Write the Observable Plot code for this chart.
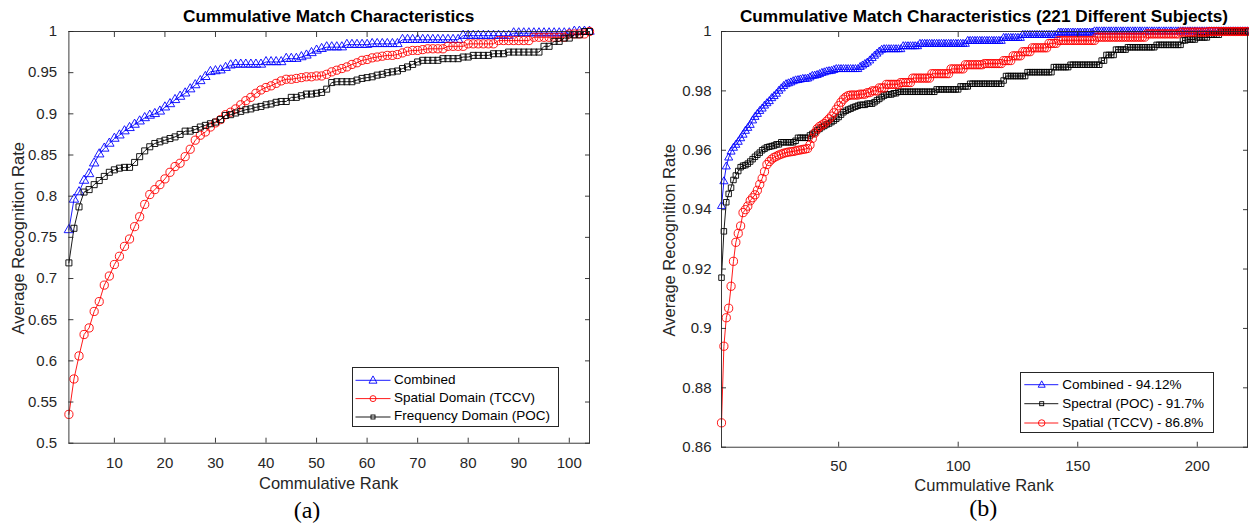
<!DOCTYPE html>
<html><head><meta charset="utf-8">
<script src="https://cdn.jsdelivr.net/npm/d3@7"></script>
<script src="https://cdn.jsdelivr.net/npm/@observablehq/plot@0.6"></script>
<style>
html,body{margin:0;padding:0;background:#fff;}
#root{position:relative;width:1249px;height:525px;overflow:hidden;font-family:"Liberation Sans",Arial,Helvetica,sans-serif;color:#262626;}
.abs{position:absolute;white-space:nowrap;}
.lg{position:absolute;box-sizing:border-box;border:1px solid #262626;background:#fff;}
</style></head><body><div id="root"></div>
<script>
// ---------------- DATA ----------------
// Panel (a): ranks 1..104
const titleA = "Cummulative Match Characteristics";
const xLabelA = "Commulative Rank";
const yLabel = "Average Recognition Rate";
const xTicksA = [10,20,30,40,50,60,70,80,90,100];
const yTicksA = [0.5,0.55,0.6,0.65,0.7,0.75,0.8,0.85,0.9,0.95,1];
const legendA = ["Combined","Spatial Domain (TCCV)","Frequency Domain (POC)"];

const combinedA = [
0.759,0.796,0.805,0.819,0.827,0.840,0.851,0.858,0.864,0.870,
0.874,0.879,0.883,0.887,0.891,0.895,0.898,0.900,0.903,0.908,
0.912,0.917,0.921,0.925,0.930,0.935,0.940,0.945,0.951,0.952,
0.953,0.956,0.959,0.960,0.960,0.960,0.960,0.960,0.960,0.963,
0.963,0.963,0.963,0.967,0.967,0.967,0.969,0.971,0.974,0.977,
0.979,0.981,0.981,0.981,0.981,0.984,0.984,0.984,0.984,0.984,
0.985,0.985,0.985,0.985,0.985,0.985,0.990,0.990,0.990,0.990,
0.990,0.990,0.990,0.990,0.990,0.990,0.990,0.990,0.995,0.995,
0.995,0.995,0.995,0.995,0.995,0.995,0.995,0.995,0.998,0.998,
0.998,0.998,0.998,0.998,0.998,0.998,0.998,0.998,0.998,0.998,
1,1,1,1];
const spatialA = [
0.535,0.578,0.606,0.632,0.640,0.660,0.672,0.692,0.703,0.717,
0.727,0.739,0.748,0.763,0.775,0.790,0.802,0.808,0.814,0.821,
0.829,0.836,0.840,0.848,0.857,0.868,0.874,0.878,0.884,0.889,
0.893,0.899,0.902,0.906,0.911,0.916,0.920,0.925,0.929,0.932,
0.934,0.937,0.940,0.942,0.942,0.943,0.944,0.945,0.945,0.946,
0.946,0.948,0.951,0.953,0.955,0.957,0.960,0.962,0.965,0.966,
0.968,0.969,0.970,0.971,0.971,0.972,0.974,0.976,0.977,0.977,
0.978,0.979,0.979,0.979,0.979,0.982,0.982,0.982,0.982,0.985,
0.985,0.985,0.985,0.985,0.985,0.989,0.989,0.989,0.989,0.989,
0.989,0.989,0.993,0.993,0.993,0.993,0.993,0.993,0.993,0.997,
0.997,0.997,0.997,1];
const frequencyA = [
0.719,0.761,0.787,0.805,0.808,0.814,0.819,0.824,0.829,0.832,
0.834,0.835,0.835,0.841,0.848,0.855,0.860,0.864,0.866,0.868,
0.870,0.872,0.875,0.879,0.879,0.881,0.884,0.886,0.888,0.890,
0.893,0.898,0.899,0.901,0.903,0.905,0.906,0.908,0.909,0.911,
0.912,0.914,0.915,0.915,0.920,0.920,0.922,0.924,0.924,0.925,
0.926,0.930,0.938,0.939,0.939,0.939,0.939,0.941,0.943,0.944,
0.945,0.947,0.948,0.950,0.951,0.952,0.955,0.957,0.960,0.963,
0.965,0.965,0.965,0.965,0.967,0.967,0.967,0.967,0.969,0.969,
0.971,0.971,0.971,0.971,0.973,0.973,0.973,0.975,0.975,0.975,
0.975,0.975,0.975,0.975,0.982,0.982,0.988,0.988,0.992,0.992,
0.996,0.996,1,1];

// Panel (b): ranks 1..221
const titleB = "Cummulative Match Characteristics (221 Different Subjects)";
const xLabelB = "Cummulative Rank";
const xTicksB = [50,100,150,200];
const yTicksB = [0.86,0.88,0.9,0.92,0.94,0.96,0.98,1];
const legendB = ["Combined - 94.12%","Spectral (POC) - 91.7%","Spatial (TCCV) - 86.8%"];

const combinedB = [
0.9412,0.9495,0.9545,0.9575,0.9595,0.9608,0.9618,0.9628,0.9640,0.9652,
0.9665,0.9675,0.9685,0.9700,0.9712,0.9722,0.9732,0.9740,0.9750,0.9758,
0.9765,0.9775,0.9782,0.9790,0.9800,0.9808,0.9816,0.9822,0.9825,0.9828,
0.9832,0.9835,0.9836,0.9838,0.9840,0.9840,0.9841,0.9845,0.9850,0.9851,
0.9853,0.9856,0.9860,0.9862,0.9865,0.9866,0.9867,0.9870,0.9873,0.9873,
0.9873,0.9873,0.9873,0.9873,0.9873,0.9873,0.9873,0.9873,0.9880,0.9885,
0.9890,0.9895,0.9902,0.9910,0.9918,0.9925,0.9932,0.9938,0.9940,0.9940,
0.9940,0.9940,0.9940,0.9940,0.9940,0.9940,0.9950,0.9950,0.9950,0.9950,
0.9950,0.9950,0.9950,0.9958,0.9958,0.9958,0.9958,0.9958,0.9958,0.9958,
0.9958,0.9958,0.9958,0.9958,0.9958,0.9958,0.9958,0.9958,0.9958,0.9958,
0.9958,0.9958,0.9958,0.9968,0.9968,0.9968,0.9968,0.9968,0.9968,0.9968,
0.9968,0.9968,0.9968,0.9968,0.9968,0.9968,0.9968,0.9968,0.9978,0.9978,
0.9978,0.9978,0.9978,0.9978,0.9978,0.9978,0.9988,0.9988,0.9988,0.9988,
0.9988,0.9988,0.9988,0.9988,0.9988,0.9988,0.9988,0.9988,0.9988,0.9988,
0.9988,0.9996,0.9996,0.9996,0.9996,0.9996,0.9996,0.9996,0.9996,0.9996,
0.9996,0.9996,0.9996,0.9996,0.9996,0.9996,1,1,1,1,
1,1,1,1,1,1,1,1,1,1,
1,1,1,1,1,1,1,1,1,1,
1,1,1,1,1,1,1,1,1,1,
1,1,1,1,1,1,1,1,1,1,
1,1,1,1,1,1,1,1,1,1,
1,1,1,1,1,1,1,1,1,1,
1];
const spectralB = [
0.9171,0.9327,0.9425,0.9453,0.9474,0.9500,0.9515,0.9530,0.9543,0.9548,
0.9550,0.9555,0.9562,0.9570,0.9578,0.9585,0.9592,0.9600,0.9605,0.9610,
0.9612,0.9614,0.9616,0.9620,0.9620,0.9627,0.9627,0.9627,0.9627,0.9627,
0.9627,0.9632,0.9642,0.9642,0.9642,0.9642,0.9642,0.9650,0.9655,0.9660,
0.9667,0.9672,0.9678,0.9682,0.9687,0.9690,0.9695,0.9700,0.9706,0.9712,
0.9720,0.9728,0.9733,0.9737,0.9740,0.9744,0.9747,0.9750,0.9753,0.9753,
0.9753,0.9757,0.9757,0.9757,0.9762,0.9768,0.9773,0.9779,0.9784,0.9788,
0.9788,0.9788,0.9792,0.9792,0.9797,0.9797,0.9797,0.9797,0.9797,0.9797,
0.9797,0.9797,0.9797,0.9797,0.9797,0.9797,0.9797,0.9797,0.9797,0.9797,
0.9805,0.9805,0.9805,0.9805,0.9805,0.9805,0.9805,0.9805,0.9805,0.9805,
0.9815,0.9815,0.9815,0.9815,0.9824,0.9824,0.9824,0.9824,0.9824,0.9824,
0.9824,0.9824,0.9824,0.9824,0.9824,0.9824,0.9824,0.9824,0.9835,0.9850,
0.9850,0.9850,0.9850,0.9850,0.9850,0.9850,0.9850,0.9850,0.9863,0.9863,
0.9863,0.9863,0.9863,0.9863,0.9863,0.9863,0.9863,0.9863,0.9863,0.9880,
0.9880,0.9880,0.9880,0.9880,0.9880,0.9880,0.9888,0.9888,0.9888,0.9888,
0.9888,0.9888,0.9888,0.9888,0.9888,0.9888,0.9888,0.9888,0.9888,0.9902,
0.9902,0.9921,0.9921,0.9921,0.9921,0.9939,0.9939,0.9939,0.9939,0.9939,
0.9947,0.9947,0.9947,0.9947,0.9947,0.9947,0.9947,0.9947,0.9947,0.9947,
0.9947,0.9947,0.9955,0.9955,0.9955,0.9955,0.9955,0.9955,0.9955,0.9955,
0.9955,0.9955,0.9955,0.9970,0.9970,0.9973,0.9973,0.9973,0.9973,0.9980,
0.9980,0.9980,0.9980,0.9980,0.9989,0.9989,0.9989,0.9989,0.9989,1,
1,1,1,1,1,1,1,1,1,1,
1];
const spatialB = [
0.8682,0.8940,0.9036,0.9068,0.9142,0.9226,0.9290,0.9320,0.9345,0.9390,
0.9400,0.9412,0.9430,0.9440,0.9450,0.9465,0.9485,0.9505,0.9528,0.9552,
0.9562,0.9570,0.9576,0.9580,0.9584,0.9587,0.9590,0.9592,0.9594,0.9595,
0.9596,0.9598,0.9600,0.9601,0.9603,0.9604,0.9606,0.9618,0.9640,0.9658,
0.9672,0.9680,0.9685,0.9690,0.9698,0.9706,0.9715,0.9726,0.9738,0.9750,
0.9762,0.9772,0.9779,0.9784,0.9786,0.9786,0.9786,0.9786,0.9789,0.9789,
0.9789,0.9794,0.9794,0.9800,0.9800,0.9800,0.9810,0.9810,0.9810,0.9822,
0.9822,0.9822,0.9822,0.9822,0.9822,0.9828,0.9828,0.9828,0.9828,0.9828,
0.9843,0.9843,0.9843,0.9843,0.9843,0.9843,0.9843,0.9843,0.9858,0.9858,
0.9858,0.9858,0.9858,0.9858,0.9858,0.9858,0.9874,0.9874,0.9874,0.9874,
0.9874,0.9874,0.9888,0.9888,0.9888,0.9888,0.9888,0.9888,0.9888,0.9888,
0.9892,0.9892,0.9892,0.9892,0.9892,0.9892,0.9892,0.9892,0.9902,0.9902,
0.9902,0.9902,0.9918,0.9918,0.9918,0.9918,0.9932,0.9932,0.9932,0.9932,
0.9945,0.9945,0.9945,0.9945,0.9945,0.9945,0.9945,0.9960,0.9960,0.9960,
0.9960,0.9970,0.9970,0.9970,0.9970,0.9970,0.9970,0.9970,0.9970,0.9970,
0.9970,0.9970,0.9970,0.9970,0.9970,0.9970,0.9970,0.9981,0.9981,0.9981,
0.9981,0.9981,0.9981,0.9981,0.9981,0.9981,0.9981,0.9981,0.9981,0.9981,
0.9981,0.9981,0.9981,0.9981,0.9981,0.9981,0.9981,0.9981,0.9992,0.9992,
0.9992,0.9992,0.9992,0.9992,0.9992,0.9992,0.9992,0.9992,0.9992,0.9992,
0.9992,0.9992,0.9998,0.9998,0.9998,0.9998,0.9998,0.9998,0.9998,0.9998,
0.9998,0.9998,0.9998,0.9998,1,1,1,1,1,1,
1,1,1,1,1,1,1,1,1,1,
1];

// ---------------- DRAW ----------------
const root = document.getElementById("root");
const AX = "#262626";
const toRows = (vals) => vals.map((v, i) => ({rank: i + 1, v}));

function seriesMarks(vals, color, symbol, r) {
  const rows = toRows(vals);
  return [
    Plot.line(rows, {x: "rank", y: "v", stroke: color, strokeWidth: 0.9}),
    Plot.dot(rows, {x: "rank", y: "v", symbol, r, stroke: color, fill: "none", strokeWidth: 0.9})
  ];
}

function panel(cfg) {
  const fmt = d => String(d);
  const chart = Plot.plot({
    width: cfg.width, height: cfg.height,
    marginLeft: cfg.mL, marginRight: cfg.mR, marginTop: cfg.mT, marginBottom: cfg.mB,
    style: {fontFamily: '"Liberation Sans", Arial, sans-serif', fontSize: "15px", color: AX, background: "transparent", overflow: "visible"},
    x: {domain: cfg.xDomain},
    y: {domain: cfg.yDomain},
    marks: [
      ...cfg.series.flatMap(s => seriesMarks(s.vals, s.color, s.symbol, s.r)),
      Plot.frame({stroke: AX, strokeWidth: 0.9}),
      Plot.axisX(cfg.xTicks, {anchor: "bottom", tickSize: 0, tickPadding: cfg.xPad, tickFormat: fmt, label: null, fontSize: 15, fill: AX}),
      Plot.axisY(cfg.yTicks, {anchor: "left", tickSize: 0, tickPadding: cfg.yPad, tickFormat: fmt, label: null, fontSize: 15, fill: AX}),
      Plot.axisX(cfg.xTicks, {anchor: "bottom", tickSize: -5, fill: "none", stroke: AX, strokeWidth: 0.9}),
      Plot.axisX(cfg.xTicks, {anchor: "top", tickSize: -5, fill: "none", stroke: AX, strokeWidth: 0.9}),
      Plot.axisY(cfg.yTicks, {anchor: "left", tickSize: -5, fill: "none", stroke: AX, strokeWidth: 0.9}),
      Plot.axisY(cfg.yTicks, {anchor: "right", tickSize: -5, fill: "none", stroke: AX, strokeWidth: 0.9})
    ]
  });
  const wrap = document.createElement("div");
  wrap.style.cssText = `position:absolute;left:${cfg.left}px;top:0px;`;
  wrap.appendChild(chart);
  root.appendChild(wrap);
}

function text(str, {cx, baseline, size, weight = "normal", serif = false, color = AX, w = 800}) {
  const d = document.createElement("div");
  d.className = "abs";
  d.textContent = str;
  const asc = serif ? 0.8375 : 0.8465;
  d.style.cssText += `left:${cx - w / 2}px;width:${w}px;text-align:center;top:${baseline - asc * size}px;font-size:${size}px;line-height:${size}px;font-weight:${weight};color:${color};` + (serif ? 'font-family:"Liberation Serif","Times New Roman",serif;' : "");
  root.appendChild(d);
}

function vtext(str, {cx, cy, size}) {
  const d = document.createElement("div");
  d.className = "abs";
  d.textContent = str;
  d.style.cssText += `left:${cx - 200}px;width:400px;text-align:center;top:${cy - size / 2}px;height:${size}px;font-size:${size}px;line-height:${size}px;transform:rotate(-90deg);transform-origin:50% 50%;`;
  root.appendChild(d);
}

function symbolSvg(symbol, color, cx, cy, s) {
  if (symbol === "triangle") {
    return `<polygon points="${cx},${cy - s * 0.55} ${cx - s / 2},${cy + s * 0.36} ${cx + s / 2},${cy + s * 0.36}" fill="none" stroke="${color}" stroke-width="0.9"/>`;
  } else if (symbol === "circle") {
    return `<circle cx="${cx}" cy="${cy}" r="${s / 2}" fill="none" stroke="${color}" stroke-width="0.9"/>`;
  }
  return `<rect x="${cx - s / 2}" y="${cy - s / 2}" width="${s}" height="${s}" fill="none" stroke="${color}" stroke-width="0.9"/>`;
}

function legend(cfg) {
  const box = document.createElement("div");
  box.className = "lg";
  box.style.cssText += `left:${cfg.left}px;top:${cfg.top}px;width:${cfg.w}px;height:${cfg.h}px;`;
  let svg = `<svg width="${cfg.w}" height="${cfg.h}" style="position:absolute;left:-1px;top:-1px;overflow:visible">`;
  cfg.items.forEach((it, i) => {
    const y = cfg.rows[i];
    svg += `<line x1="${cfg.l0}" x2="${cfg.l1}" y1="${y}" y2="${y}" stroke="${it.color}" stroke-width="0.9"/>`;
    svg += symbolSvg(it.symbol, it.color, cfg.mx, y, it.s);
  });
  svg += `</svg>`;
  box.innerHTML = svg;
  cfg.items.forEach((it, i) => {
    const t = document.createElement("div");
    t.className = "abs";
    t.textContent = it.label;
    const size = 13.5;
    t.style.cssText += `left:${cfg.tx - 1}px;top:${cfg.rows[i] - 1 - size / 2 - 0.5}px;font-size:${size}px;line-height:${size}px;color:#000;`;
    box.appendChild(t);
  });
  root.appendChild(box);
}

// Panel (a)
panel({
  left: 0, width: 620, height: 500, mL: 68.4, mR: 31, mT: 31, mB: 57.3,
  xDomain: [1, 104], yDomain: [0.5, 1], xTicks: xTicksA, yTicks: yTicksA, xPad: 13.7, yPad: 11.7,
  series: [
    {vals: combinedA, color: "#0000ff", symbol: "triangle", r: 3.5},
    {vals: spatialA, color: "#ff0000", symbol: "circle", r: 4.1},
    {vals: frequencyA, color: "#000000", symbol: "square", r: 3.4}
  ]
});
// Panel (b)
panel({
  left: 640, width: 609, height: 500, mL: 81, mR: 2, mT: 31, mB: 53.3,
  xDomain: [1, 221], yDomain: [0.86, 1], xTicks: xTicksB, yTicks: yTicksB, xPad: 13, yPad: 10,
  series: [
    {vals: combinedB, color: "#0000ff", symbol: "triangle", r: 3.0},
    {vals: spectralB, color: "#000000", symbol: "square", r: 3.1},
    {vals: spatialB, color: "#ff0000", symbol: "circle", r: 4.1}
  ]
});

text(titleA, {cx: 328.7, baseline: 22.5, size: 17.2, weight: "bold", color: "#000"});
text(titleB, {cx: 984, baseline: 22.3, size: 17.2, weight: "bold", color: "#000"});
text(xLabelA, {cx: 328.7, baseline: 489, size: 16.5, w: 300});
text(xLabelB, {cx: 984, baseline: 491, size: 16.5, w: 300});
vtext(yLabel, {cx: 18.3, cy: 238, size: 16.5});
vtext(yLabel, {cx: 669.3, cy: 240, size: 16.5});
text("(a)", {cx: 307, baseline: 518, size: 24, serif: true, color: "#000", w: 60});
text("(b)", {cx: 983.3, baseline: 516, size: 24, serif: true, color: "#000", w: 60});

legend({
  left: 351.7, top: 366.7, w: 207, h: 60,
  rows: [13.3, 31.6, 50], l0: 3.5, l1: 38.5, mx: 21, tx: 42.3,
  items: [
    {label: legendA[0], color: "#0000ff", symbol: "triangle", s: 8},
    {label: legendA[1], color: "#ff0000", symbol: "circle", s: 6},
    {label: legendA[2], color: "#000000", symbol: "square", s: 4}
  ]
});
legend({
  left: 1020, top: 372.3, w: 194.3, h: 60.4,
  rows: [12.7, 31.7, 51], l0: 4.3, l1: 38.3, mx: 21.7, tx: 42.3,
  items: [
    {label: legendB[0], color: "#0000ff", symbol: "triangle", s: 7},
    {label: legendB[1], color: "#000000", symbol: "square", s: 4},
    {label: legendB[2], color: "#ff0000", symbol: "circle", s: 6.5}
  ]
});
</script></body></html>
